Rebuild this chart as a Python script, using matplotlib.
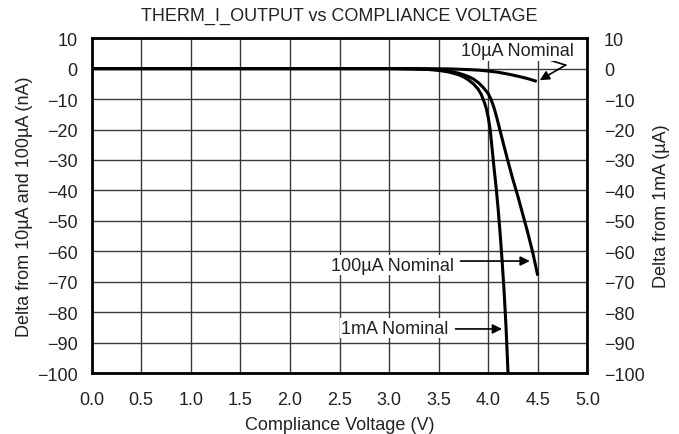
import matplotlib
matplotlib.use("Agg")
import matplotlib.pyplot as plt
from matplotlib.ticker import FixedLocator

plt.rcParams['font.family'] = ['Liberation Sans', 'DejaVu Sans']

# ---- data ----
v_10uA = [0.0, 3.0, 3.3, 3.5, 3.6, 3.7, 3.8, 3.9, 4.0, 4.1, 4.2, 4.3, 4.4, 4.49]
d_10uA = [0.0, 0.0, -0.02, -0.05, -0.1, -0.2, -0.33, -0.5, -0.8, -1.2, -1.8,
          -2.5, -3.3, -4.2]

v_100uA = [0.0, 3.0, 3.2, 3.4, 3.5, 3.6, 3.7, 3.75, 3.8, 3.85, 3.9, 3.95, 4.0,
           4.03, 4.06, 4.09, 4.12, 4.16, 4.2, 4.25, 4.3, 4.35, 4.4, 4.45, 4.5]
d_100uA = [0.0, 0.0, -0.05, -0.2, -0.4, -0.8, -1.5, -2.0, -2.6, -3.4, -4.6,
           -6.2, -8.2, -10.2, -13.0, -16.5, -20.4, -25.5, -30.5, -36.5, -42,
           -48, -54, -60.5, -68]

v_1mA = [0.0, 3.0, 3.2, 3.4, 3.5, 3.6, 3.7, 3.75, 3.8, 3.85, 3.9, 3.93, 3.96,
         3.98, 4.0, 4.02, 4.04, 4.06, 4.08, 4.1, 4.12, 4.14, 4.16, 4.18, 4.2]
d_1mA = [0.0, 0.0, -0.1, -0.3, -0.6, -1.1, -2.0, -2.7, -3.7, -5.0, -6.8, -8.5,
         -11, -13, -16, -20, -26.5, -33, -39, -46, -54, -63, -73, -85, -100]

x_ticks = [0.0, 0.5, 1.0, 1.5, 2.0, 2.5, 3.0, 3.5, 4.0, 4.5, 5.0]
y_ticks = [10, 0, -10, -20, -30, -40, -50, -60, -70, -80, -90, -100]

FS = 13
TC = '#222222'

fig = plt.figure(figsize=(6.79, 4.35), dpi=100)
ax = fig.add_axes([0.135, 0.140, 0.730, 0.770])

ax.set_xlim(0, 5)
ax.set_ylim(-100, 10)
ax.xaxis.set_major_locator(FixedLocator(x_ticks))
ax.yaxis.set_major_locator(FixedLocator(y_ticks))
ax.set_xticklabels([f"{t:.1f}" for t in x_ticks])
ax.set_yticklabels([f"{t}".replace('-', '\u2212') for t in y_ticks])
ax.grid(True, color='#3a3a3a', lw=1.0)
ax.set_axisbelow(True)
for s in ax.spines.values():
    s.set_linewidth(2.0)
ax.tick_params(length=0, labelsize=FS, colors=TC)
ax.tick_params(axis='x', pad=13)
ax.tick_params(axis='y', pad=10)

ax2 = ax.twinx()
ax2.set_ylim(-100, 10)
ax2.yaxis.set_major_locator(FixedLocator(y_ticks))
ax2.set_yticklabels([f"{t}".replace('-', '\u2212') for t in y_ticks])
ax2.tick_params(length=0, labelsize=FS, colors=TC, pad=12)
for s in ax2.spines.values():
    s.set_visible(False)

lw = 2.2
ax.plot(v_10uA, d_10uA, color='black', lw=lw, solid_capstyle='butt')
ax.plot(v_100uA, d_100uA, color='black', lw=lw, solid_capstyle='butt')
ax.plot(v_1mA, d_1mA, color='black', lw=lw, solid_capstyle='butt')

ap = dict(arrowstyle='-|>', mutation_scale=14, lw=1.2, color='black',
          shrinkA=0, shrinkB=0)
box = dict(facecolor='white', edgecolor='none', pad=1.0)

# 10uA annotation
ax.text(4.29, 5.9, "10\u00b5A Nominal", fontsize=FS, ha='center', va='center',
        color=TC, bbox=box)
ax.plot([4.64, 4.78], [2.6, 1.15], color='black', lw=1.2)
ax.annotate("", xy=(v_10uA[-1] + 0.03, d_10uA[-1] + 0.4), xytext=(4.78, 1.15),
            arrowprops=ap)

# 100uA annotation
ax.text(3.65, -64.5, "100\u00b5A Nominal", fontsize=FS, ha='right', va='center',
        color=TC, bbox=box)
ax.annotate("", xy=(4.42, -63.2), xytext=(3.72, -63.2), arrowprops=ap)

# 1mA annotation
ax.text(3.60, -85.2, "1mA Nominal", fontsize=FS, ha='right', va='center',
        color=TC, bbox=box)
ax.annotate("", xy=(4.14, -85.5), xytext=(3.67, -85.5), arrowprops=ap)

ax.set_title("THERM_I_OUTPUT vs COMPLIANCE VOLTAGE", fontsize=FS,
             color=TC, pad=13)
ax.set_xlabel("Compliance Voltage (V)", fontsize=FS, color=TC, labelpad=6)
ax.set_ylabel("Delta from 10\u00b5A and 100\u00b5A (nA)", fontsize=FS,
              color=TC, labelpad=3)
ax2.set_ylabel("Delta from 1mA (\u00b5A)", fontsize=FS, color=TC,
               labelpad=6)

fig.savefig("out.png", dpi=100)
